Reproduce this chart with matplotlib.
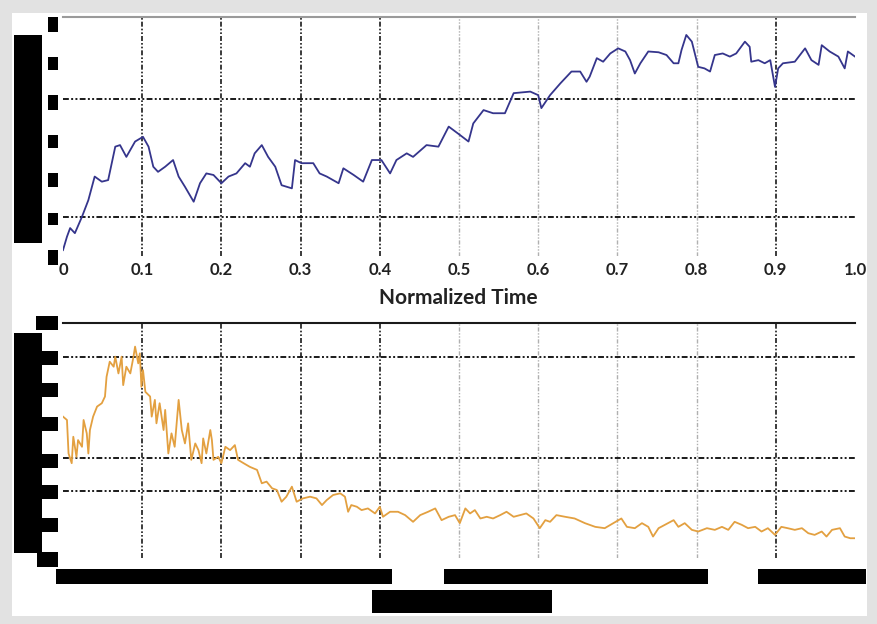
import matplotlib
matplotlib.use('Agg')
import matplotlib.pyplot as plt
from matplotlib.patches import Rectangle

W, H = 878, 624

# top panel (blue trace)
t_top = [0.000, 0.005, 0.009, 0.015, 0.024, 0.032, 0.040, 0.049, 0.057, 0.066,
         0.072, 0.080, 0.091, 0.101, 0.108, 0.114, 0.120, 0.129, 0.139, 0.146,
         0.154, 0.165, 0.173, 0.181, 0.190, 0.200, 0.209, 0.219, 0.230, 0.236,
         0.242, 0.251, 0.259, 0.268, 0.276, 0.289, 0.293, 0.301, 0.316, 0.324,
         0.333, 0.348, 0.354, 0.367, 0.379, 0.390, 0.402, 0.413, 0.421, 0.434,
         0.442, 0.459, 0.474, 0.487, 0.501, 0.512, 0.518, 0.531, 0.543, 0.558,
         0.569, 0.590, 0.600, 0.604, 0.615, 0.628, 0.642, 0.653, 0.661, 0.665,
         0.674, 0.682, 0.691, 0.701, 0.710, 0.716, 0.722, 0.729, 0.739, 0.752,
         0.762, 0.771, 0.777, 0.781, 0.787, 0.794, 0.802, 0.810, 0.817, 0.823,
         0.833, 0.842, 0.850, 0.861, 0.867, 0.869, 0.878, 0.886, 0.893, 0.899,
         0.903, 0.909, 0.924, 0.937, 0.945, 0.954, 0.958, 0.968, 0.979, 0.987,
         0.991, 1.000]
v_top = [0.15, 0.49, 0.71, 0.58, 1.00, 1.42, 2.02, 1.89, 1.93, 2.78,
         2.82, 2.52, 2.91, 3.03, 2.78, 2.27, 2.14, 2.27, 2.44, 2.02,
         1.76, 1.38, 1.85, 2.10, 2.06, 1.85, 2.02, 2.10, 2.36, 2.27,
         2.61, 2.82, 2.52, 2.27, 1.80, 1.72, 2.44, 2.36, 2.36, 2.10,
         2.02, 1.85, 2.23, 2.06, 1.89, 2.44, 2.44, 2.10, 2.44, 2.61,
         2.52, 2.82, 2.78, 3.29, 3.08, 2.91, 3.37, 3.71, 3.63, 3.63,
         4.14, 4.18, 4.09, 3.76, 4.09, 4.39, 4.69, 4.69, 4.43, 4.56,
         5.03, 4.94, 5.15, 5.28, 5.20, 4.98, 4.64, 4.90, 5.20, 5.18,
         5.11, 4.90, 4.90, 5.24, 5.62, 5.45, 4.81, 4.77, 4.69, 5.11,
         5.15, 5.07, 5.15, 5.45, 5.32, 4.94, 4.98, 4.90, 4.98, 4.30,
         4.77, 4.90, 4.94, 5.28, 4.98, 4.86, 5.36, 5.20, 5.07, 4.77,
         5.20, 5.07]

# bottom panel (orange trace)
t_bot = [0.000, 0.005, 0.007, 0.011, 0.013, 0.017, 0.019, 0.024, 0.026, 0.030,
         0.032, 0.034, 0.038, 0.043, 0.049, 0.053, 0.055, 0.059, 0.064, 0.066,
         0.070, 0.074, 0.076, 0.080, 0.085, 0.089, 0.091, 0.095, 0.097, 0.099,
         0.101, 0.104, 0.110, 0.112, 0.116, 0.118, 0.122, 0.127, 0.129, 0.133,
         0.137, 0.141, 0.146, 0.150, 0.154, 0.158, 0.162, 0.167, 0.171, 0.175,
         0.177, 0.181, 0.186, 0.188, 0.190, 0.196, 0.200, 0.205, 0.211, 0.217,
         0.221, 0.228, 0.236, 0.245, 0.251, 0.257, 0.264, 0.270, 0.276, 0.282,
         0.289, 0.295, 0.303, 0.312, 0.320, 0.327, 0.333, 0.341, 0.350, 0.356,
         0.360, 0.364, 0.371, 0.377, 0.385, 0.394, 0.400, 0.404, 0.413, 0.423,
         0.432, 0.442, 0.451, 0.461, 0.470, 0.478, 0.487, 0.495, 0.501, 0.508,
         0.514, 0.520, 0.527, 0.535, 0.543, 0.552, 0.560, 0.569, 0.577, 0.585,
         0.594, 0.602, 0.609, 0.615, 0.623, 0.634, 0.646, 0.659, 0.672, 0.684,
         0.695, 0.705, 0.712, 0.722, 0.731, 0.739, 0.745, 0.752, 0.760, 0.771,
         0.777, 0.785, 0.794, 0.802, 0.813, 0.823, 0.832, 0.840, 0.848, 0.857,
         0.865, 0.874, 0.882, 0.890, 0.899, 0.907, 0.915, 0.924, 0.933, 0.941,
         0.949, 0.958, 0.964, 0.971, 0.981, 0.987, 0.994, 1.000]
v_bot = [4.22, 4.12, 3.12, 2.83, 3.62, 3.02, 3.52, 3.32, 4.12, 3.72,
         3.12, 3.82, 4.22, 4.52, 4.62, 4.82, 5.41, 5.86, 5.71, 6.01,
         5.51, 6.01, 5.16, 5.71, 5.51, 6.01, 6.31, 5.81, 6.11, 5.11,
         5.61, 4.96, 4.82, 4.22, 4.72, 4.02, 4.62, 3.82, 4.42, 3.12,
         3.72, 3.32, 4.72, 3.82, 3.42, 4.02, 2.93, 3.42, 3.22, 2.83,
         3.57, 3.12, 3.82, 3.52, 2.93, 3.02, 2.83, 3.32, 3.22, 3.37,
         2.93, 2.83, 2.72, 2.63, 2.23, 2.28, 2.08, 2.03, 1.68, 1.83,
         2.13, 1.68, 1.78, 1.83, 1.78, 1.58, 1.73, 1.88, 1.93, 1.83,
         1.38, 1.58, 1.53, 1.43, 1.48, 1.33, 1.53, 1.23, 1.38, 1.38,
         1.28, 1.08, 1.28, 1.38, 1.48, 1.13, 1.23, 1.28, 1.04, 1.48,
         1.33, 1.43, 1.18, 1.23, 1.18, 1.28, 1.38, 1.23, 1.28, 1.33,
         1.18, 0.89, 1.13, 1.08, 1.28, 1.23, 1.18, 1.04, 0.93, 0.89,
         1.04, 1.18, 0.93, 0.89, 1.04, 0.93, 0.64, 0.89, 0.99, 1.13,
         0.93, 1.04, 0.84, 0.79, 0.89, 0.84, 0.93, 0.84, 1.08, 0.99,
         0.89, 0.93, 0.79, 0.89, 0.69, 0.93, 0.89, 0.84, 0.89, 0.74,
         0.69, 0.79, 0.64, 0.84, 0.89, 0.64, 0.59, 0.59]

x_ticks = [0, 0.1, 0.2, 0.3, 0.4, 0.5, 0.6, 0.7, 0.8, 0.9, 1.0]
x_labels = ['0', '0.1', '0.2', '0.3', '0.4', '0.5', '0.6', '0.7', '0.8', '0.9', '1.0']
dark_vgrid = [0.1, 0.2, 0.3, 0.4, 0.9]
light_vgrid = [0.5, 0.6, 0.7, 0.8]
top_hgrid = [1, 4]
bot_hgrid = [2, 3, 6]

grid_ls = (0, (3, 1.2, 1, 1.2, 1, 1.2))


def px_rect(x0, y0, x1, y1, color='black', z=5):
    # rectangle given in picture pixels (top-left origin)
    return Rectangle((x0 / W, 1 - y1 / H), (x1 - x0) / W, (y1 - y0) / H,
                     transform=fig.transFigure, facecolor=color,
                     edgecolor='none', zorder=z)


fig = plt.figure(figsize=(W / 100, H / 100), dpi=100, facecolor='#e2e2e2')
fig.add_artist(px_rect(12, 13, 867, 616, color='white', z=-5))


def setup(ax, top_color):
    ax.set_facecolor('none')
    ax.set_xlim(0, 1)
    for s in ['left', 'right', 'bottom']:
        ax.spines[s].set_visible(False)
    ax.spines['top'].set_color(top_color)
    ax.spines['top'].set_linewidth(1.5)
    ax.set_yticks([])
    for g in dark_vgrid:
        ax.axvline(g, color='#1a1a1a', lw=1.2, ls=grid_ls, zorder=1)
    for g in light_vgrid:
        ax.axvline(g, color='#b0b0b0', lw=1.0, ls=grid_ls, zorder=1)


# top panel
ax1 = fig.add_axes([63 / W, 1 - 256 / H, 792 / W, 239 / H])
setup(ax1, '#9a9a9a')
ax1.set_ylim(0, 239 / 39.33)
for g in top_hgrid:
    ax1.axhline(g, color='#1a1a1a', lw=1.4, ls=grid_ls, zorder=1)
ax1.plot(t_top, v_top, color='#35358c', lw=1.3, zorder=3)
ax1.set_xticks(x_ticks)
ax1.set_xticklabels(x_labels, fontsize=12, family='Lato', fontweight='bold',
                    color='#222222')
ax1.tick_params(axis='x', length=0, pad=4)
fig.text(458 / W, 1 - 298 / H, 'Normalized Time', ha='center', va='center',
         fontsize=15, family='Lato', fontweight='bold', color='#222222')

# bottom panel
ax2 = fig.add_axes([63 / W, 1 - 558 / H, 792 / W, 235 / H])
setup(ax2, '#1a1a1a')
ax2.set_ylim(0, 235 / 33.5)
for g in bot_hgrid:
    ax2.axhline(g, color='#1a1a1a', lw=1.4, ls=grid_ls, zorder=1)
ax2.plot(t_bot, v_bot, color='#e3a040', lw=1.3, zorder=3)
ax2.set_xticks([])

# redaction blocks over the hidden labels
boxes = [
    (14, 35, 42, 243),
    (48, 17, 58, 32), (48, 57, 58, 70), (48, 95, 58, 110), (48, 135, 58, 148),
    (48, 173, 58, 187), (48, 213, 58, 225), (48, 250, 58, 265),
    (36, 316, 58, 330),
    (14, 333, 42, 553),
    (42, 351, 58, 365), (42, 383, 58, 397), (42, 417, 58, 431), (42, 454, 58, 468),
    (42, 485, 58, 499), (42, 518, 58, 532), (37, 552, 58, 567),
    (56, 569, 392, 584), (444, 569, 708, 584), (758, 569, 866, 584),
    (372, 590, 552, 613),
]
for b in boxes:
    fig.add_artist(px_rect(*b))

fig.savefig('out.png', dpi=100, facecolor=fig.get_facecolor())
